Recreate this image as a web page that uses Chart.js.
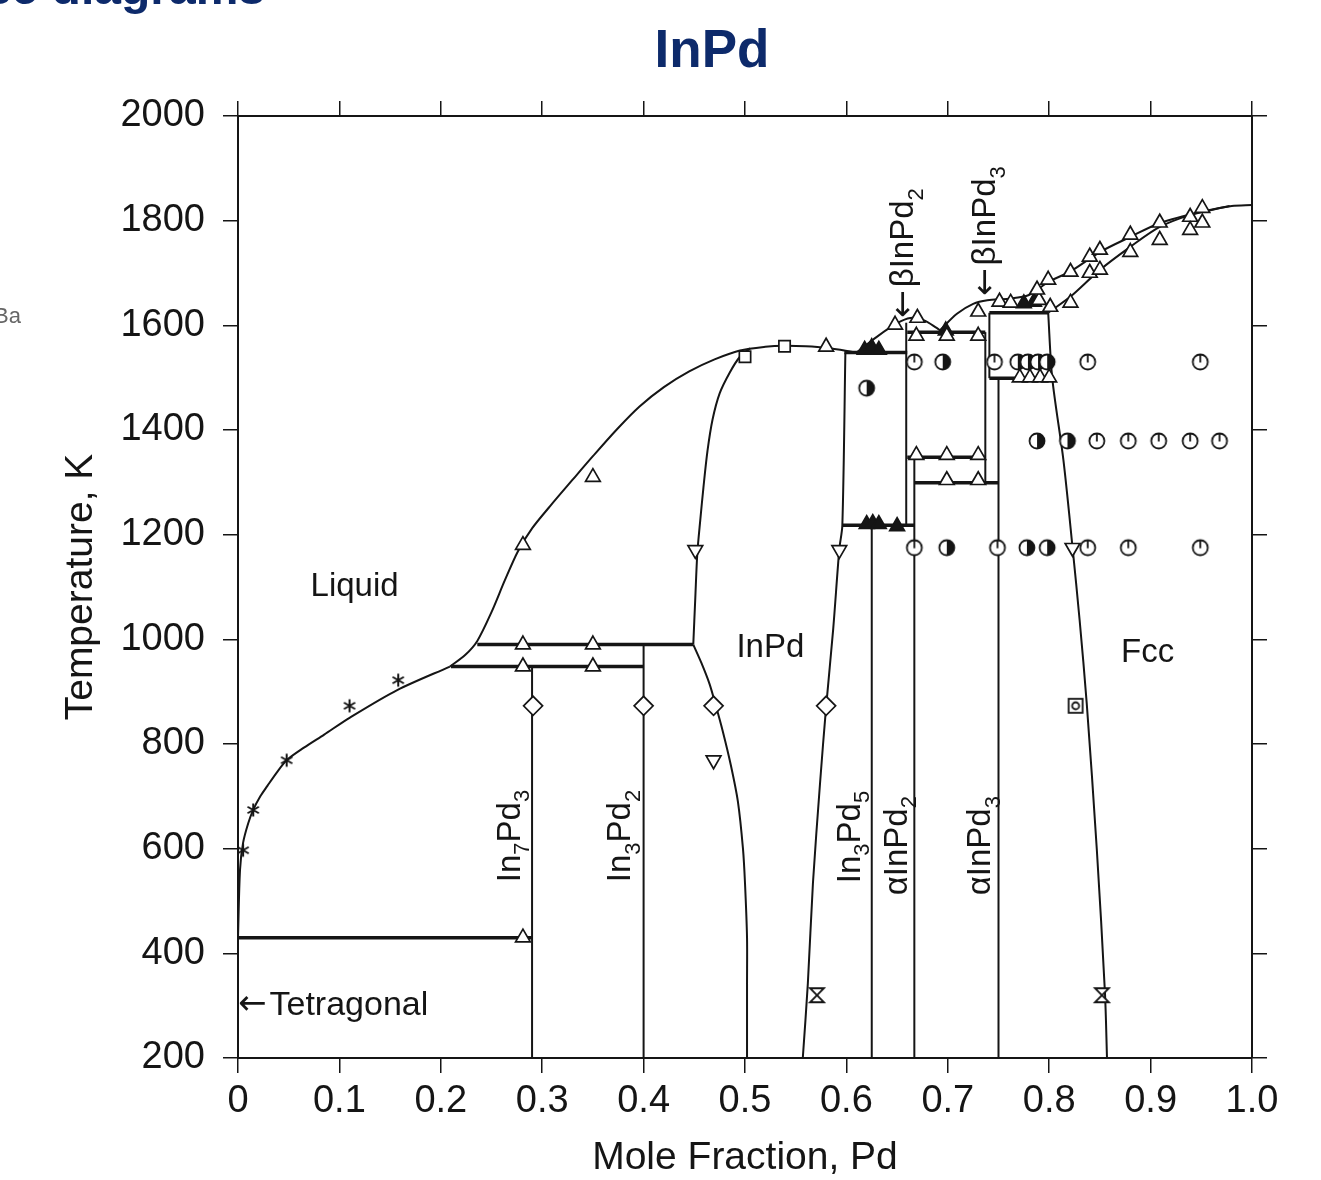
<!DOCTYPE html>
<html>
<head>
<meta charset="utf-8">
<title>InPd</title>
<script src="https://cdn.jsdelivr.net/npm/chart.js@4.4.1/dist/chart.umd.min.js"></script>
<style>
  html, body { margin: 0; padding: 0; background: #fff; }
  #wrap { position: relative; width: 1321px; height: 1180px; overflow: hidden; }
</style>
</head>
<body>
<div id="wrap"><canvas id="chart" width="1321" height="1180"></canvas></div>
<script>
const FONT = "'Liberation Sans', Arial, Helvetica, sans-serif";
const ARROW_FONT = "'DejaVu Sans', sans-serif";
const INK = "#151515";

// axis ticks
const xTickLabels = ["0", "0.1", "0.2", "0.3", "0.4", "0.5", "0.6", "0.7", "0.8", "0.9", "1.0"];
const yTickLabels = ["200", "400", "600", "800", "1000", "1200", "1400", "1600", "1800", "2000"];

// phase boundaries [mole fraction Pd, T in K]
const liquidusIn = [[0, 430], [0.002, 560], [0.005, 611], [0.010, 648], [0.015, 674], [0.022, 700], [0.029, 720], [0.038, 745], [0.048, 769], [0.065, 793], [0.085, 818], [0.11, 850], [0.157, 903], [0.209, 948]];
const liquidusMid = [[0.209, 948], [0.224, 970], [0.236, 997], [0.25, 1052], [0.263, 1112], [0.276, 1168], [0.29, 1212], [0.308, 1255], [0.33, 1305], [0.35, 1350], [0.374, 1402], [0.396, 1445], [0.42, 1482], [0.445, 1512], [0.47, 1535], [0.495, 1552], [0.52, 1559], [0.539, 1561], [0.56, 1560], [0.58, 1557], [0.61, 1548]];
const inPdLeftUpper = [[0.449, 990], [0.451, 1080], [0.453, 1165], [0.456, 1230], [0.459, 1290], [0.463, 1360], [0.468, 1420], [0.475, 1470], [0.485, 1510], [0.495, 1540], [0.505, 1556]];
const inPdLeftLower = [[0.449, 990], [0.457, 955], [0.465, 915], [0.471, 875], [0.478, 825], [0.486, 760], [0.493, 690], [0.498, 600], [0.5, 534], [0.502, 430], [0.502, 343], [0.502, 200]];
const inPdRight = [[0.599, 1548], [0.596, 1218], [0.593, 1172], [0.587, 1020], [0.580, 871], [0.574, 725], [0.567, 534], [0.562, 343], [0.557, 200]];
const betaInPd2Dome = [[0.61, 1548], [0.630, 1578], [0.650, 1604], [0.663, 1614], [0.676, 1610], [0.689, 1595], [0.694, 1588]];
const liquidusPd = [[0.692, 1590], [0.709, 1622], [0.725, 1641], [0.739, 1648], [0.76, 1651], [0.78, 1658], [0.80, 1684], [0.82, 1702], [0.85, 1740], [0.88, 1769], [0.91, 1796], [0.95, 1817], [0.98, 1828], [1.0, 1830]];
const solidusPd = [[0.799, 1624], [0.821, 1655], [0.85, 1706], [0.88, 1750], [0.909, 1788], [0.939, 1811], [0.959, 1820], [0.978, 1828]];
const fccBoundary = [[0.799, 1624], [0.803, 1499], [0.814, 1343], [0.823, 1176], [0.830, 1037], [0.837, 878], [0.847, 597], [0.855, 324], [0.857, 200]];

// invariant lines [x from, x to, T] and compound lines [x, T from, T to]
const invariantLines = [[0, 0.29, 430], [0.21, 0.40, 948], [0.236, 0.449, 990], [0.598, 0.66, 1548], [0.596, 0.667, 1218], [0.66, 0.737, 1587], [0.66, 0.737, 1348], [0.667, 0.75, 1299], [0.741, 0.799, 1624], [0.741, 0.803, 1499]];
const compoundLines = [[0, 200, 430], [0.29, 200, 948], [0.40, 200, 990], [0.625, 200, 1218], [0.667, 200, 1348], [0.659, 1218, 1605], [0.737, 1299, 1587], [0.741, 1499, 1624], [0.75, 200, 1499]];

// measured points
const stars = [[0.005, 597], [0.015, 674], [0.048, 769], [0.11, 873], [0.158, 922]];
const openTriangles = [[0.281, 1180], [0.35, 1310], [0.281, 990], [0.35, 990], [0.281, 948], [0.35, 948], [0.281, 430], [0.58, 1559],
  [0.648, 1601], [0.67, 1614], [0.669, 1580], [0.699, 1580], [0.73, 1580], [0.73, 1626],
  [0.669, 1352], [0.699, 1352], [0.73, 1352], [0.699, 1304], [0.73, 1304],
  [0.751, 1645], [0.762, 1643], [0.79, 1648],
  [0.788, 1668], [0.799, 1687], [0.821, 1702], [0.840, 1731], [0.850, 1744], [0.880, 1773], [0.909, 1796], [0.939, 1807], [0.951, 1824],
  [0.801, 1635], [0.821, 1643], [0.840, 1700], [0.850, 1706], [0.880, 1740], [0.909, 1763], [0.939, 1782], [0.951, 1796],
  [0.771, 1500], [0.781, 1500], [0.791, 1500], [0.80, 1500]];
const filledTriangles = [[0.618, 1553], [0.625, 1558], [0.632, 1553], [0.698, 1590], [0.775, 1642], [0.785, 1645], [0.62, 1220], [0.626, 1222], [0.632, 1220], [0.65, 1216]];
const downTriangles = [[0.451, 1171], [0.593, 1171], [0.469, 769], [0.823, 1175]];
const diamonds = [[0.291, 873], [0.40, 873], [0.469, 873], [0.58, 873]];
const squares = [[0.5, 1540], [0.539, 1560]];
const hourglasses = [[0.571, 320], [0.852, 320]];
const boxedCircles = [[0.826, 873]];
const halfCircles = [[0.62, 1480], [0.695, 1530], [0.769, 1530], [0.779, 1530], [0.789, 1530], [0.798, 1530], [0.788, 1379], [0.818, 1379], [0.699, 1175], [0.778, 1175], [0.798, 1175]];
const tickCircles = [[0.667, 1530], [0.746, 1530], [0.838, 1530], [0.949, 1530], [0.847, 1379], [0.878, 1379], [0.908, 1379], [0.939, 1379], [0.968, 1379], [0.667, 1175], [0.749, 1175], [0.838, 1175], [0.878, 1175], [0.949, 1175]];

// text in the diagram
const phaseLabels = [["Liquid", 0.115, 1100], ["InPd", 0.525, 983], ["Fcc", 0.897, 974]];
const compoundLabels = [["In_7Pd_3", 0.278, 536], ["In_3Pd_2", 0.387, 536], ["In_3Pd_5", 0.613, 534], ["\u03b1InPd_2", 0.660, 511], ["\u03b1InPd_3", 0.742, 511], ["\u2190\u03b2InPd_2", 0.666, 1614], ["\u2190\u03b2InPd_3", 0.747, 1656]];

function toXY(points) {
  return points.map(p => ({ x: p[0], y: p[1] }));
}

function curve(points, width) {
  return { data: toXY(points), showLine: true, borderColor: INK, borderWidth: width || 2, pointRadius: 0, tension: 0.3, order: 2 };
}

function straight(points, width) {
  return { data: toXY(points), showLine: true, borderColor: INK, borderWidth: width, pointRadius: 0, tension: 0, order: 2 };
}

function markers(points, style, opts) {
  return Object.assign({ data: toXY(points), showLine: false, pointStyle: style, pointRadius: 8.5, borderColor: INK, borderWidth: 1.7, backgroundColor: "#fff", order: 0 }, opts || {});
}

function makeMarker(draw) {
  const c = document.createElement("canvas");
  c.width = 20;
  c.height = 20;
  const g = c.getContext("2d");
  g.strokeStyle = INK;
  g.fillStyle = "#fff";
  g.lineWidth = 1.8;
  draw(g);
  return c;
}

const starImg = makeMarker(g => {
  g.lineWidth = 2;
  g.beginPath();
  for (let k = 0; k < 3; k++) {
    const a = Math.PI / 2 + k * Math.PI / 3;
    g.moveTo(10 + 6.5 * Math.cos(a), 10 + 6.5 * Math.sin(a));
    g.lineTo(10 - 6.5 * Math.cos(a), 10 - 6.5 * Math.sin(a));
  }
  g.stroke();
});
const halfCircleImg = makeMarker(g => {
  g.beginPath(); g.arc(10, 10, 7.5, 0, Math.PI * 2); g.fill();
  g.fillStyle = INK;
  g.beginPath(); g.arc(10, 10, 7.5, -Math.PI / 2, Math.PI / 2); g.closePath(); g.fill();
  g.beginPath(); g.arc(10, 10, 7.5, 0, Math.PI * 2); g.stroke();
});
const tickCircleImg = makeMarker(g => {
  g.beginPath(); g.arc(10, 10, 7.5, 0, Math.PI * 2); g.fill(); g.stroke();
  g.beginPath(); g.moveTo(10, 2.5); g.lineTo(10, 10.5); g.stroke();
});
const hourglassImg = makeMarker(g => {
  g.beginPath(); g.moveTo(3, 3); g.lineTo(17, 3); g.lineTo(3, 17); g.lineTo(17, 17); g.closePath(); g.fill(); g.stroke();
});
const boxedCircleImg = makeMarker(g => {
  g.fillRect(3, 3, 14, 14); g.strokeRect(3, 3, 14, 14);
  g.beginPath(); g.arc(10, 10, 3.5, 0, Math.PI * 2); g.stroke();
});

const datasets = [
  markers(stars, starImg),
  markers(openTriangles, "triangle"),
  markers(filledTriangles, "triangle", { backgroundColor: INK }),
  markers(downTriangles, "triangle", { rotation: 180 }),
  markers(diamonds, "rectRot", { pointRadius: 9.5 }),
  markers(squares, "rect", { pointRadius: 8 }),
  markers(hourglasses, hourglassImg),
  markers(boxedCircles, boxedCircleImg),
  markers(halfCircles, halfCircleImg),
  markers(tickCircles, tickCircleImg),
  curve(liquidusIn),
  curve(liquidusMid),
  curve(inPdLeftUpper),
  curve(inPdLeftLower),
  curve(inPdRight),
  curve(betaInPd2Dome),
  curve(liquidusPd),
  curve(solidusPd),
  curve(fccBoundary)
];
invariantLines.forEach(l => datasets.push(straight([[l[0], l[2]], [l[1], l[2]]], 3.5)));
compoundLines.forEach(l => datasets.push(straight([[l[0], l[1]], [l[0], l[2]]], 2)));

// text with "_n" subscripts and a leading arrow drawn in a font that has a long one
function drawSubText(ctx, str, size) {
  let cx = 0;
  if (str.startsWith("\u2190")) {
    ctx.font = size + "px " + ARROW_FONT;
    ctx.fillText("\u2190", 0, 0);
    cx += ctx.measureText("\u2190").width + 3;
    str = str.slice(1);
  }
  const parts = str.split(/_(\d)/);
  parts.forEach((s, i) => {
    const sub = i % 2 === 1;
    ctx.font = (sub ? Math.round(size * 0.68) : size) + "px " + FONT;
    ctx.fillText(s, cx, sub ? size * 0.28 : 0);
    cx += ctx.measureText(s).width;
  });
}

const textPlugin = {
  id: "phaseText",
  afterDraw(chart) {
    const { ctx } = chart;
    const xs = chart.scales.x;
    const ys = chart.scales.y;
    ctx.save();
    ctx.fillStyle = INK;

    ctx.textAlign = "center";
    ctx.textBaseline = "middle";
    ctx.font = "33px " + FONT;
    phaseLabels.forEach(l => ctx.fillText(l[0], xs.getPixelForValue(l[1]), ys.getPixelForValue(l[2])));

    ctx.textAlign = "left";
    ctx.save();
    ctx.translate(xs.getPixelForValue(0), ys.getPixelForValue(301));
    drawSubText(ctx, "\u2190Tetragonal", 34);
    ctx.restore();

    ctx.textBaseline = "alphabetic";
    compoundLabels.forEach(l => {
      ctx.save();
      ctx.translate(xs.getPixelForValue(l[1]), ys.getPixelForValue(l[2]));
      ctx.rotate(-Math.PI / 2);
      drawSubText(ctx, l[0], 33);
      ctx.restore();
    });

    // page headings
    ctx.fillStyle = "#0d2a6b";
    ctx.textAlign = "center";
    ctx.font = "bold 53px " + FONT;
    ctx.fillText("InPd", 712, 67);
    ctx.textAlign = "right";
    ctx.font = "bold 48px " + FONT;
    ctx.fillText("Phase diagrams", 265, 4);
    ctx.fillStyle = "#666";
    ctx.textAlign = "left";
    ctx.font = "22px " + FONT;
    ctx.fillText("Ba", -6, 323);
    ctx.restore();
  }
};

const gridOpts = { drawOnChartArea: false, drawTicks: true, tickLength: 15, color: INK, lineWidth: 1.5 };
const borderOpts = { display: true, color: INK, width: 2 };

new Chart(document.getElementById("chart"), {
  type: "scatter",
  data: { datasets: datasets },
  options: {
    responsive: false,
    animation: false,
    events: [],
    layout: { padding: 0 },
    plugins: { legend: { display: false }, tooltip: { enabled: false } },
    scales: {
      x: {
        type: "linear", position: "bottom", min: 0, max: 1,
        ticks: { stepSize: 0.1, padding: 6, color: INK, font: { size: 38, family: FONT }, callback: (v, i) => xTickLabels[i], maxRotation: 0 },
        grid: gridOpts, border: borderOpts,
        title: { display: true, text: "Mole Fraction, Pd", color: INK, font: { size: 39, family: FONT, lineHeight: 1 }, padding: { top: 0, bottom: 2 } },
        afterFit: s => { s.height = 122; }
      },
      x2: {
        type: "linear", position: "top", min: 0, max: 1,
        ticks: { stepSize: 0.1, display: false },
        grid: gridOpts, border: borderOpts,
        afterFit: s => { s.height = 116; }
      },
      y: {
        type: "linear", position: "left", min: 200, max: 2000,
        ticks: { stepSize: 200, padding: 18, color: INK, font: { size: 38, family: FONT }, callback: (v, i) => yTickLabels[i] },
        grid: gridOpts, border: borderOpts,
        title: { display: true, text: "Temperature, K", color: INK, font: { size: 39, family: FONT, lineHeight: 1 }, padding: { top: 62, bottom: 0 } },
        afterFit: s => { s.width = 238; }
      },
      y2: {
        type: "linear", position: "right", min: 200, max: 2000,
        ticks: { stepSize: 200, display: false },
        grid: gridOpts, border: borderOpts,
        afterFit: s => { s.width = 69; }
      }
    }
  },
  plugins: [textPlugin]
});
</script>
</body>
</html>
